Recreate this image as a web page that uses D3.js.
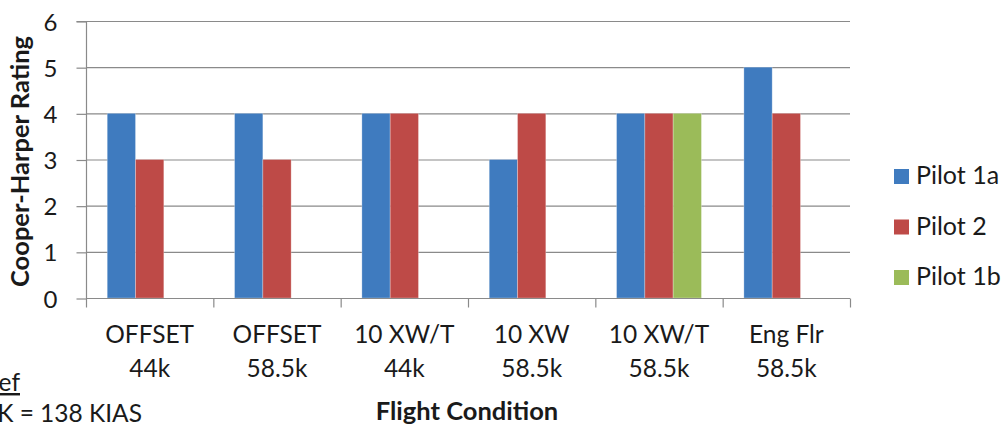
<!DOCTYPE html>
<html>
<head>
<meta charset="utf-8">
<script src="https://cdn.jsdelivr.net/npm/d3@7"></script>
<style>
  html, body { margin: 0; padding: 0; background: #fff; }
  svg { display: block; }
  text { font-family: Lato, "Open Sans", sans-serif; fill: #1a1a1a; }
</style>
</head>
<body>
<svg id="chart" width="1007" height="425"></svg>
<script>
// Flight conditions (two-line labels)
const conditions = [
  ["OFFSET", "44k"],
  ["OFFSET", "58.5k"],
  ["10 XW/T", "44k"],
  ["10 XW", "58.5k"],
  ["10 XW/T", "58.5k"],
  ["Eng Flr", "58.5k"]
];
const seriesNames = ["Pilot 1a", "Pilot 2", "Pilot 1b"];
const pilot1a = [4, 4, 4, 3, 4, 5];
const pilot2  = [3, 3, 4, 4, 4, 4];
const pilot1b = [null, null, null, null, 4, null];
const seriesColors = ["#3f7bbf", "#be4a47", "#9bbb59"];
const yTicks = [0, 1, 2, 3, 4, 5, 6];

const seriesValues = [pilot1a, pilot2, pilot1b];

const svg = d3.select("#chart");
const plot = { left: 86, right: 850, top: 21, bottom: 298 };

const catIdx = conditions.map((_, i) => i);
const x = d3.scaleBand().domain(catIdx).range([plot.left, plot.right]).paddingInner(0).paddingOuter(0);
const inner = d3.scaleBand().domain(seriesNames).range([0, x.bandwidth()]).paddingInner(0).paddingOuter(0.75);
const y = d3.scaleLinear().domain([0, 6]).range([plot.bottom, plot.top]);

// Horizontal gridlines
svg.append("g")
  .selectAll("line")
  .data(yTicks.filter(d => d > 0))
  .join("line")
  .attr("x1", plot.left).attr("x2", plot.right)
  .attr("y1", d => y(d) + 0.5).attr("y2", d => y(d) + 0.5)
  .attr("stroke", "#8a8a8a").attr("stroke-width", 1.2);

// Bars
const barData = [];
seriesNames.forEach((name, s) => {
  seriesValues[s].forEach((v, i) => {
    if (v != null) barData.push({ name, s, i, v });
  });
});
svg.append("g")
  .selectAll("rect")
  .data(barData)
  .join("rect")
  .attr("x", d => x(d.i) + inner(d.name))
  .attr("width", inner.bandwidth())
  .attr("y", d => y(d.v))
  .attr("height", d => y(0) - y(d.v))
  .attr("fill", d => seriesColors[d.s])
  .attr("stroke", "rgba(255,255,255,0.35)")
  .attr("stroke-width", 0.8);

// Y axis
const yAxis = d3.axisLeft(y).tickValues(yTicks).tickSize(10).tickPadding(19).tickFormat(d3.format("d"));
const gy = svg.append("g").attr("transform", `translate(${plot.left + 0.5},0.5)`).call(yAxis);
gy.select(".domain").attr("stroke", "#8a8a8a").attr("stroke-width", 1.2).attr("d", `M-10,${plot.top}H0V${plot.bottom}`);
gy.selectAll(".tick line").attr("stroke", "#8a8a8a").attr("stroke-width", 1.2);
gy.selectAll(".tick text").style("font-size", "24px").attr("fill", "#1a1a1a").attr("dy", "0.36em");

// X axis: bottom line and separators between categories
const gx = svg.append("g").attr("transform", `translate(0,${plot.bottom + 0.5})`);
gx.append("line").attr("x1", plot.left).attr("x2", plot.right)
  .attr("stroke", "#8a8a8a").attr("stroke-width", 1.2);
const bounds = catIdx.map(i => x(i)).concat([plot.right]);
gx.selectAll("line.sep").data(bounds).join("line").attr("class", "sep")
  .attr("x1", d => d + 0.5).attr("x2", d => d + 0.5)
  .attr("y1", 0).attr("y2", 9)
  .attr("stroke", "#8a8a8a").attr("stroke-width", 1.2);

const labels = svg.append("g");
conditions.forEach((lines, i) => {
  const cx = x(i) + x.bandwidth() / 2;
  lines.forEach((t, k) => {
    labels.append("text")
      .attr("x", cx).attr("y", 343 + k * 34)
      .attr("text-anchor", "middle")
      .style("font-size", "24.5px")
      .text(t);
  });
});

// Axis titles
svg.append("text")
  .attr("transform", `translate(29,${(plot.top + plot.bottom) / 2 + 2}) rotate(-90)`)
  .attr("text-anchor", "middle")
  .style("font-size", "25.5px").style("font-weight", "bold")
  .text("Cooper-Harper Rating");
svg.append("text")
  .attr("x", 467).attr("y", 420)
  .attr("text-anchor", "middle")
  .style("font-size", "25.5px").style("font-weight", "bold")
  .text("Flight Condition");

// Legend
const legend = svg.append("g");
seriesNames.forEach((name, s) => {
  const cy = 176 + s * 50.5;
  legend.append("rect")
    .attr("x", 894).attr("y", cy - 7).attr("width", 15).attr("height", 15)
    .attr("fill", seriesColors[s]);
  legend.append("text")
    .attr("x", 916).attr("y", cy + 8)
    .style("font-size", "25px")
    .text(name);
});

// Reference note at lower left
svg.append("text").attr("x", 20).attr("y", 391).attr("text-anchor", "end")
  .style("font-size", "24.5px").style("text-decoration", "underline").text("Ref");
svg.append("text").attr("x", 142).attr("y", 422).attr("text-anchor", "end")
  .style("font-size", "24.5px").text("44K = 138 KIAS");
</script>
</body>
</html>
